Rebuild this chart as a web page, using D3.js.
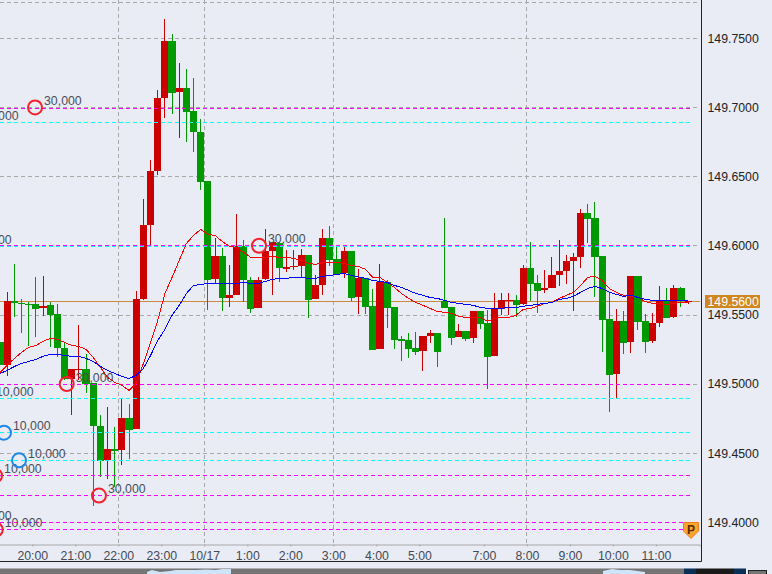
<!DOCTYPE html>
<html>
<head>
<meta charset="utf-8">
<script src="https://cdn.jsdelivr.net/npm/d3@7"></script>
<style>
    html, body { margin: 0; padding: 0; background: #e9ecf5; overflow: hidden; }
    svg { display: block; }
    text { font-family: "Liberation Sans", Arial, sans-serif; font-size: 12.3px; }
</style>
</head>
<body>
<svg class="chart" width="772" height="574"></svg>
<script>
// 10 minute candles, leftmost candle first
const opens = [
    149.5303, 149.5135, 149.5597, 149.5585, 149.5578, 149.5576, 149.5549, 149.5568, 149.5503, 149.5263,
    149.5033, 149.5104, 149.5111, 149.5007, 149.4696, 149.4448, 149.4532, 149.4520, 149.4751, 149.4672,
    149.5612, 149.6147, 149.6544, 149.7067, 149.7484, 149.7111, 149.7137, 149.6971, 149.6826, 149.6465,
    149.5756, 149.5923, 149.5624, 149.5641, 149.5997, 149.5754, 149.5549, 149.5756, 149.5959, 149.6022,
    149.5834, 149.5845, 149.5850, 149.5930, 149.5612, 149.5713, 149.6053, 149.5901, 149.5805, 149.5959,
    149.5626, 149.5764, 149.5561, 149.5250, 149.5735, 149.5554, 149.5323, 149.5315, 149.5257, 149.5236,
    149.5344, 149.5366, 149.5597, 149.5554, 149.5337, 149.5380, 149.5330, 149.5525, 149.5438, 149.5200,
    149.5539, 149.5597, 149.5605, 149.5576, 149.5836, 149.5727, 149.5677, 149.5691, 149.5785, 149.5814,
    149.5886, 149.5915, 149.6234, 149.6197, 149.5923, 149.5467, 149.5070, 149.5453, 149.5301, 149.5778,
    149.5453, 149.5308, 149.5438, 149.5597, 149.5482, 149.5691, 149.5590
];
const highs = [
    149.5303, 149.5665, 149.5870, 149.5617, 149.5590, 149.5773, 149.5778, 149.5592, 149.5581, 149.5294,
    149.5106, 149.5424, 149.5219, 149.5007, 149.4773, 149.4833, 149.4688, 149.4889, 149.4853, 149.5670,
    149.6335, 149.6617, 149.7123, 149.7641, 149.7528, 149.7325, 149.7275, 149.7210, 149.6913, 149.6465,
    149.6055, 149.5980, 149.5863, 149.6226, 149.6038, 149.5773, 149.5773, 149.6118, 149.6024, 149.6026,
    149.5966, 149.5966, 149.5978, 149.5930, 149.5790, 149.6123, 149.6140, 149.5990, 149.5990, 149.5959,
    149.5829, 149.5766, 149.5689, 149.5870, 149.5749, 149.5554, 149.5344, 149.5366, 149.5373, 149.5344,
    149.5388, 149.5366, 149.6197, 149.5554, 149.5431, 149.5380, 149.5525, 149.5525, 149.5532, 149.5655,
    149.5655, 149.5655, 149.5641, 149.5858, 149.6024, 149.5785, 149.5821, 149.5915, 149.6038, 149.5930,
    149.5946, 149.6262, 149.6299, 149.6313, 149.5923, 149.5655, 149.5539, 149.5525, 149.5778, 149.5778,
    149.5503, 149.5511, 149.5706, 149.5691, 149.5713, 149.5699, 149.5600
];
const lows = [
    149.5135, 149.5057, 149.5484, 149.5368, 149.5272, 149.5339, 149.5489, 149.5267, 149.5195, 149.5026,
    149.4773, 149.5026, 149.4934, 149.4115, 149.4327, 149.4313, 149.4255, 149.4412, 149.4455, 149.4672,
    149.5605, 149.5997, 149.6515, 149.6923, 149.6949, 149.6778, 149.6749, 149.6675, 149.6400, 149.5532,
    149.5727, 149.5527, 149.5556, 149.5641, 149.5592, 149.5513, 149.5549, 149.5754, 149.5641, 149.5737,
    149.5809, 149.5826, 149.5764, 149.5474, 149.5612, 149.5641, 149.5850, 149.5785, 149.5766, 149.5597,
    149.5503, 149.5503, 149.5243, 149.5250, 149.5402, 149.5250, 149.5164, 149.5185, 149.5207, 149.5091,
    149.5294, 149.5120, 149.5547, 149.5279, 149.5337, 149.5308, 149.5294, 149.5395, 149.4961, 149.5200,
    149.5496, 149.5496, 149.5482, 149.5568, 149.5597, 149.5511, 149.5655, 149.5691, 149.5706, 149.5720,
    149.5527, 149.5836, 149.6017, 149.5626, 149.5229, 149.4795, 149.4896, 149.5214, 149.5221, 149.5388,
    149.5221, 149.5294, 149.5409, 149.5474, 149.5474, 149.5554, 149.5576
];
const closes = [
    149.5135, 149.5597, 149.5583, 149.5576, 149.5568, 149.5542, 149.5566, 149.5496, 149.5263, 149.5038,
    149.5106, 149.5111, 149.5002, 149.4696, 149.4443, 149.4532, 149.4515, 149.4751, 149.4665, 149.5612,
    149.6147, 149.6544, 149.7067, 149.7484, 149.7103, 149.7137, 149.6966, 149.6819, 149.6460, 149.5749,
    149.5923, 149.5621, 149.5641, 149.5997, 149.5749, 149.5542, 149.5754, 149.5959, 149.6024, 149.5838,
    149.5845, 149.5853, 149.5930, 149.5605, 149.5713, 149.6053, 149.5894, 149.5798, 149.5959, 149.5621,
    149.5764, 149.5554, 149.5243, 149.5735, 149.5547, 149.5315, 149.5308, 149.5250, 149.5229, 149.5344,
    149.5366, 149.5229, 149.5547, 149.5330, 149.5380, 149.5323, 149.5525, 149.5431, 149.5192, 149.5539,
    149.5605, 149.5605, 149.5568, 149.5836, 149.5720, 149.5670, 149.5691, 149.5785, 149.5814, 149.5886,
    149.5915, 149.6234, 149.6190, 149.5915, 149.5460, 149.5062, 149.5453, 149.5294, 149.5778, 149.5445,
    149.5301, 149.5438, 149.5597, 149.5474, 149.5691, 149.5597, 149.5600
];

// fast and slow moving averages
const fastMa = [
    149.5084, 149.5135, 149.5185, 149.5229, 149.5265, 149.5279, 149.5308, 149.5330, 149.5323, 149.5301,
    149.5279, 149.5272, 149.5250, 149.5192, 149.5120, 149.5048, 149.5012, 149.4990, 149.4954, 149.5005,
    149.5149, 149.5301, 149.5460, 149.5655, 149.5771, 149.5894, 149.6017, 149.6074, 149.6118, 149.6082,
    149.6074, 149.6031, 149.5995, 149.5988, 149.5952, 149.5915, 149.5915, 149.5915, 149.5923, 149.5915,
    149.5915, 149.5908, 149.5894, 149.5872, 149.5865, 149.5879, 149.5879, 149.5879, 149.5872, 149.5858,
    149.5850, 149.5829, 149.5771, 149.5771, 149.5735, 149.5699, 149.5655, 149.5619, 149.5590, 149.5569,
    149.5547, 149.5525, 149.5518, 149.5511, 149.5489, 149.5482, 149.5482, 149.5482, 149.5453, 149.5475,
    149.5482, 149.5482, 149.5497, 149.5540, 149.5547, 149.5562, 149.5583, 149.5590, 149.5619, 149.5641,
    149.5663, 149.5713, 149.5771, 149.5779, 149.5749, 149.5691, 149.5663, 149.5641, 149.5634, 149.5626,
    149.5597, 149.5583, 149.5583, 149.5576, 149.5583, 149.5590, 149.5590
];
const slowMa = [
    149.5077, 149.5098, 149.5127, 149.5149, 149.5163, 149.5178, 149.5200, 149.5214, 149.5214, 149.5207,
    149.5200, 149.5200, 149.5185, 149.5163, 149.5127, 149.5098, 149.5077, 149.5055, 149.5040, 149.5062,
    149.5113, 149.5207, 149.5315, 149.5395, 149.5497, 149.5569, 149.5655, 149.5713, 149.5720, 149.5727,
    149.5727, 149.5727, 149.5727, 149.5727, 149.5735, 149.5727, 149.5727, 149.5742, 149.5756, 149.5764,
    149.5764, 149.5771, 149.5771, 149.5764, 149.5764, 149.5779, 149.5785, 149.5792, 149.5800, 149.5785,
    149.5775, 149.5764, 149.5749, 149.5742, 149.5735, 149.5713, 149.5699, 149.5677, 149.5655, 149.5641,
    149.5626, 149.5619, 149.5605, 149.5590, 149.5583, 149.5576, 149.5569, 149.5554, 149.5547, 149.5547,
    149.5547, 149.5554, 149.5554, 149.5562, 149.5569, 149.5576, 149.5583, 149.5590, 149.5612, 149.5619,
    149.5634, 149.5663, 149.5691, 149.5706, 149.5691, 149.5663, 149.5648, 149.5634, 149.5641, 149.5626,
    149.5612, 149.5605, 149.5605, 149.5605, 149.5605, 149.5605, 149.5605
];

// time labels and the candle index each one sits on
const timeLabels = ["20:00", "21:00", "22:00", "23:00", "10/17", "1:00", "2:00", "3:00", "4:00", "5:00", "7:00", "8:00", "9:00", "10:00", "11:00"];
const timeIndex = [5, 11, 17, 23, 29, 35, 41, 47, 53, 59, 68, 74, 80, 86, 92];
const vGridIndex = [17, 29, 47, 74];

const priceTicks = [149.40, 149.45, 149.50, 149.55, 149.60, 149.65, 149.70, 149.75];
const topGridPrice = 149.7763;
const magentaLevels = [149.6995, 149.60, 149.50, 149.4341, 149.4196, 149.40, 149.3950];
const cyanLevels = [149.6893, 149.5994, 149.4898, 149.4651, 149.4449];
const lastPrice = 149.56;

// order markers: position on the time axis, price, size, side
const orderIndex = [5.38, 9.8, 14.3, 36.63, -0.2, -0.1, 1.05, 3.15, -3.41, -1.32, -4.39, -4.39];
const orderPrice = [149.70, 149.50, 149.4193, 149.60, 149.4337, 149.3947, 149.4648, 149.4448, 149.689, 149.4894, 149.5996, 149.40];
const orderSize = ["30,000", "30,000", "30,000", "30,000", "10,000", "10,000", "10,000", "10,000", "30,000", "10,000", "30,000", "30,000"];
const orderSide = ["sell", "sell", "sell", "sell", "sell", "sell", "buy", "buy", "sell", "sell", "sell", "sell"];

// navigator strip at the very bottom
const stripX = [147, 152, 160, 170, 176, 186, 196, 206, 216, 222, 231, 603, 612, 620, 630, 645];
const stripTop = [572, 570, 572, 571, 570, 570, 570, 569.5, 570, 569, 569, 571, 569, 570, 570, 572];

const svg = d3.select(".chart");
const width = +svg.attr("width");
const height = +svg.attr("height");

const frameRight = 701.5;
const axisY = 544.5;
const levelEnd = 690;

const x = d3.scaleLinear().domain([0, 98.1]).range([-3.53, 699.6]);
const y = d3.scaleLinear().domain([149.4, 149.75]).range([522.3, 38.3]);
const mid = i => x(i + 0.5);
// the platform snaps its level lines down onto a pixel row
const row = v => Math.floor(y(v) + 0.2) + 0.5;
const col = v => Math.floor(x(v)) + 0.5;

const candles = opens.map((o, i) => ({ i, o, h: highs[i], l: lows[i], c: closes[i] }));
const red = "#cc0000";
const green = "#009900";

svg.append("rect").attr("width", width).attr("height", height).attr("fill", "#e9ecf5");

// Grid
const grid = svg.append("g").attr("stroke", "#a8a8a8").attr("stroke-dasharray", "4,3");
grid.selectAll(".hgrid")
    .data(priceTicks.concat(topGridPrice))
    .enter().append("line")
    .attr("x1", 0).attr("x2", 699)
    .attr("y1", row).attr("y2", row);
grid.selectAll(".vgrid")
    .data(vGridIndex)
    .enter().append("line")
    .attr("x1", col).attr("x2", col)
    .attr("y1", 0).attr("y2", axisY);

// Last price line
svg.append("line")
    .attr("x1", 0).attr("x2", 700)
    .attr("y1", row(lastPrice)).attr("y2", row(lastPrice))
    .attr("stroke", "#cc8a3c");

// Candles
const candle = svg.append("g").selectAll("g")
    .data(candles)
    .enter().append("g")
    .attr("fill", d => d.c >= d.o ? red : green)
    .attr("stroke", "none")
    .attr("shape-rendering", "crispEdges");

candle.append("rect")
    .attr("x", d => Math.round(mid(d.i) - 0.5))
    .attr("width", 1)
    .attr("y", d => Math.round(y(d.h)))
    .attr("height", d => Math.max(1, Math.round(y(d.l)) - Math.round(y(d.h))));

candle.append("rect")
    .attr("x", d => Math.round(x(d.i)))
    .attr("width", d => Math.round(x(d.i + 1)) - Math.round(x(d.i)))
    .attr("y", d => Math.round(y(Math.max(d.o, d.c))))
    .attr("height", d => Math.max(1, Math.round(y(Math.min(d.o, d.c))) - Math.round(y(Math.max(d.o, d.c)))));

// Order levels
function levelLines(levels, color) {
    svg.append("g").selectAll("line")
        .data(levels)
        .enter().append("line")
        .attr("x1", 0).attr("x2", levelEnd)
        .attr("y1", row).attr("y2", row)
        .attr("stroke", color)
        .attr("stroke-dasharray", "4,3");
}
levelLines(cyanLevels, "#00ffff");
levelLines(magentaLevels, "#ff00ff");

// Moving averages
const maLine = d3.line().x((d, i) => mid(i)).y(d => y(d));
svg.append("path").attr("d", maLine(fastMa)).attr("fill", "none").attr("stroke", "#ff0000").attr("stroke-width", 1).attr("shape-rendering", "crispEdges");
svg.append("path").attr("d", maLine(slowMa)).attr("fill", "none").attr("stroke", "#0000ff").attr("stroke-width", 1).attr("shape-rendering", "crispEdges");

// Order markers
const order = svg.append("g").selectAll("g")
    .data(orderIndex)
    .enter().append("g")
    .attr("transform", (d, i) => `translate(${x(d)},${y(orderPrice[i])})`);
order.append("circle")
    .attr("r", 7)
    .attr("fill", "none")
    .attr("stroke-width", 2)
    .attr("stroke", (d, i) => orderSide[i] === "buy" ? "#1e88e5" : "#f4222e");
order.append("text")
    .attr("x", 9)
    .attr("y", -2.5)
    .attr("fill", "#484e5a")
    .text((d, i) => orderSize[i]);

// Axes
const xAxis = d3.axisBottom(x)
    .tickValues(timeIndex)
    .tickFormat((d, i) => timeLabels[i])
    .tickSize(2)
    .tickPadding(4.5);
const xAxisG = svg.append("g").attr("transform", `translate(0,${axisY})`).call(xAxis);
xAxisG.select(".domain").attr("stroke", "#a8a8a8");
xAxisG.selectAll(".tick line").attr("stroke", "#a8a8a8");
xAxisG.selectAll("text").attr("fill", "#444a55").style("font-size", "12.3px").style("font-family", '"Liberation Sans", Arial, sans-serif');

const yAxis = d3.axisRight(y)
    .tickValues(priceTicks)
    .tickFormat(d3.format(".4f"))
    .tickSize(0)
    .tickPadding(6);
const yAxisG = svg.append("g").attr("transform", `translate(${frameRight},0)`).call(yAxis);
yAxisG.select(".domain").remove();
yAxisG.selectAll("text").attr("fill", "#222").style("font-size", "12.3px").style("font-family", '"Liberation Sans", Arial, sans-serif');

// Frame
svg.append("path")
    .attr("d", `M${frameRight},0 V561.5 H0`)
    .attr("fill", "none")
    .attr("stroke", "#222");

// Last price badge
svg.append("rect")
    .attr("x", 705).attr("width", 55)
    .attr("y", Math.round(y(lastPrice)) - 6).attr("height", 13)
    .attr("fill", "#d0871f");
svg.append("text")
    .attr("x", 707.5).attr("y", y(lastPrice) + 4.5)
    .attr("fill", "#fff")
    .text(lastPrice.toFixed(4));

// P flag on the right edge
const flag = svg.append("g").attr("transform", `translate(${x(96.9)},${Math.round(y(149.4))})`);
flag.append("path")
    .attr("d", "M-7.5,0.5 H7.5 V9 L0,16.5 L-7.5,9 Z")
    .attr("fill", "#f9a52f")
    .attr("stroke", "#f07c1c");
flag.append("text")
    .attr("y", 11.5)
    .attr("text-anchor", "middle")
    .attr("fill", "#5a2d00")
    .style("font-weight", "bold")
    .style("font-size", "12px")
    .text("P");

// Bottom strip
const strip = svg.append("g");
strip.append("rect").attr("x", 0).attr("y", 568.5).attr("width", 684).attr("height", 6).attr("fill", "#757575");
strip.append("rect").attr("x", 684).attr("y", 568.5).attr("width", 12).attr("height", 6).attr("fill", "#0b3058");
strip.append("rect").attr("x", 696).attr("y", 568.5).attr("width", 38).attr("height", 6).attr("fill", "#1a1a1a");
strip.append("rect").attr("x", 734).attr("y", 568.5).attr("width", 12).attr("height", 6).attr("fill", "#0b3058");
strip.append("rect").attr("x", 748.5).attr("y", 570.5).attr("width", 18).attr("height", 6).attr("fill", "#757575").attr("stroke", "#222");

const stripArea = d3.area().x(d => d[0]).y0(574).y1(d => d[1]);
[[0, 11], [11, 16]].forEach(([a, b]) => {
    const pts = stripX.slice(a, b).map((v, i) => [v, stripTop[a + i]]);
    strip.append("path").attr("d", stripArea(pts)).attr("fill", "#cfe4f7");
});
</script>
</body>
</html>
